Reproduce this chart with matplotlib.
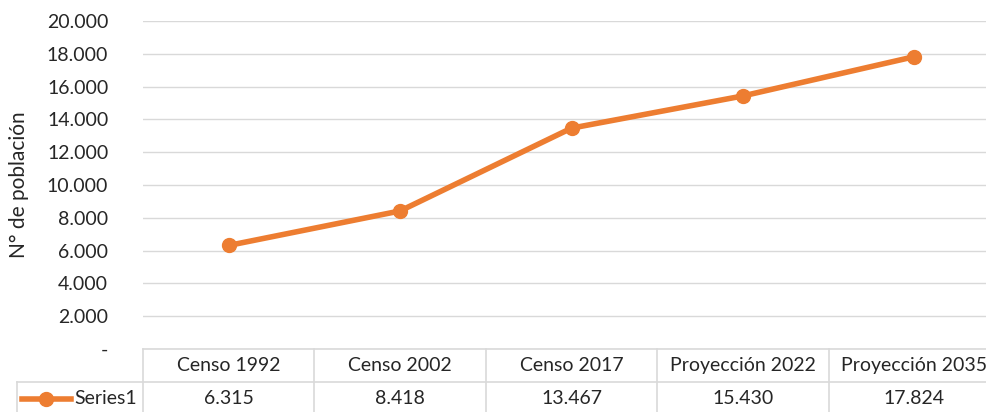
import numpy as np
import matplotlib.pyplot as plt
from matplotlib.lines import Line2D
import matplotlib.transforms as mtransforms

plt.rcParams['font.family'] = ['Lato', 'DejaVu Sans']

categorias = ['Censo 1992', 'Censo 2002', 'Censo 2017', 'Proyección 2022', 'Proyección 2035']
poblacion = [6315, 8418, 13467, 15430, 17824]
serie = 'Series1'
ticks_y = [0, 2000, 4000, 6000, 8000, 10000, 12000, 14000, 16000, 18000, 20000]

naranja = '#ED7D31'
gris = '#D9D9D9'
texto = '#262626'


def miles(v):
    if v == 0:
        return '-'
    return f'{v:,.0f}'.replace(',', '.')


fig = plt.figure(figsize=(9.87, 4.12), dpi=100)
ax = fig.add_axes([143 / 987, 1 - 349 / 412, (1000 - 143) / 987, 328 / 412])

x = np.arange(len(categorias))
ax.plot(x, poblacion, '-o', color=naranja, lw=4, markersize=10, zorder=3, clip_on=False)

ax.set_xlim(-0.5, len(categorias) - 0.5)
ax.set_ylim(0, 20000)
ax.set_yticks(ticks_y)
ax.set_yticklabels([miles(v) for v in ticks_y], fontsize=14, color=texto)
ax.tick_params(axis='y', length=0, pad=25)
ax.set_xticks([])
ax.grid(axis='y', color=gris, lw=1)
ax.set_axisbelow(True)
for s in ax.spines.values():
    s.set_visible(False)
ax.set_ylabel('N° de población', fontsize=15, color=texto)
ax.yaxis.set_label_coords(-(143 - 29) / 857, 0.5)

# tabla de datos bajo el gráfico
trans = mtransforms.blended_transform_factory(ax.transData, ax.transAxes)
fila = 33 / 328
izq = -0.5 - 126 / 171.4
n = len(categorias)


def linea(xs, ys):
    ax.add_line(Line2D(xs, ys, transform=trans, color=gris, lw=1.2, clip_on=False))


linea([-0.5, n - 0.5], [0, 0])
linea([izq, n - 0.5], [-fila, -fila])
linea([izq, n - 0.5], [-2 * fila, -2 * fila])
linea([izq, izq], [-fila, -2 * fila])
for i in range(n + 1):
    linea([i - 0.5, i - 0.5], [0, -2 * fila])

for i, (c, v) in enumerate(zip(categorias, poblacion)):
    ax.text(i, -fila / 2, c, transform=trans, ha='center', va='center', fontsize=14, color=texto)
    ax.text(i, -1.5 * fila, miles(v), transform=trans, ha='center', va='center', fontsize=14, color=texto)

# clave de la serie
kx0 = izq + 5 / 171.4
kx1 = izq + 54 / 171.4
ax.add_line(Line2D([kx0, kx1], [-1.5 * fila] * 2, transform=trans, color=naranja, lw=4, clip_on=False))
ax.add_line(Line2D([(kx0 + kx1) / 2], [-1.5 * fila], transform=trans, color=naranja, marker='o',
                   markersize=10, clip_on=False))
ax.text(izq + 57 / 171.4, -1.5 * fila, serie, transform=trans, ha='left', va='center', fontsize=14, color=texto)

plt.savefig('out.png', dpi=100)
